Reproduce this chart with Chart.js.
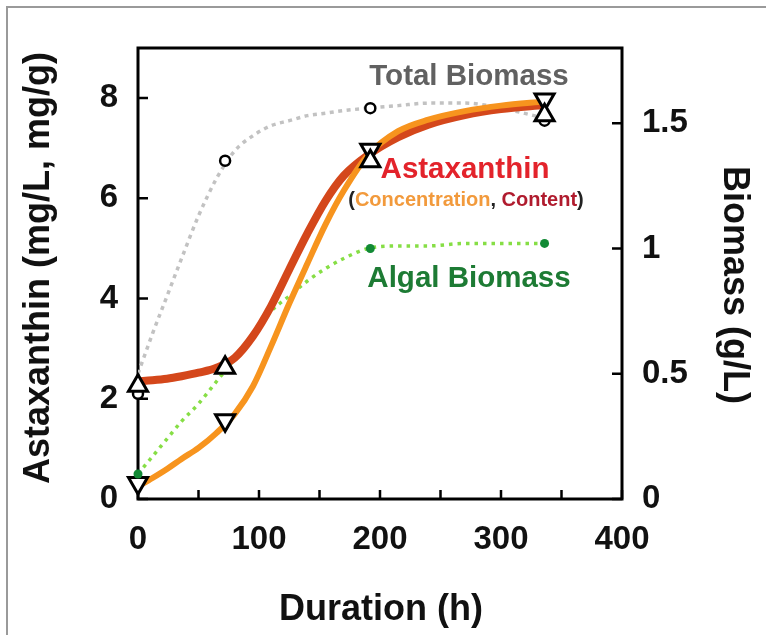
<!DOCTYPE html>
<html>
<head>
<meta charset="utf-8">
<script src="https://cdn.jsdelivr.net/npm/chart.js@4.4.0/dist/chart.umd.min.js"></script>
<style>
  body { margin: 0; background: #fff; }
  #chart { display: block; }
</style>
</head>
<body>
<canvas id="chart" width="766" height="635"></canvas>
<script>
// sampling times (h) and measured points
const hours = [0, 72, 192, 336];
const totalBiomass = [0.42, 1.35, 1.56, 1.51];   // g/L, right axis
const algalBiomass = [0.10, null, 1.00, 1.02];   // g/L, right axis
const astaContent = [2.26, 2.62, 6.74, 7.66];    // mg/g, left axis
const astaConc = [0.32, 1.57, 6.97, 7.97];       // mg/L, left axis

// trend lines as drawn in the figure
const fitHours = [0, 12, 24, 36, 50, 65, 80, 95, 110, 125, 140, 155, 170, 190, 215, 240, 270, 300, 336];
const contentFit = [2.35, 2.37, 2.40, 2.45, 2.52, 2.62, 2.82, 3.25, 3.85, 4.58, 5.30, 5.95, 6.45, 6.86, 7.22, 7.47, 7.66, 7.78, 7.86];
const concFit = [0.25, 0.42, 0.60, 0.80, 1.02, 1.32, 1.70, 2.25, 3.05, 3.90, 4.70, 5.48, 6.15, 6.86, 7.34, 7.57, 7.74, 7.85, 7.93];
const totalFit = [0.50, 0.66, 0.81, 0.96, 1.13, 1.28, 1.39, 1.45, 1.49, 1.51, 1.53, 1.54, 1.55, 1.56, 1.57, 1.58, 1.58, 1.56, 1.52];
const algalFit = [0.10, 0.17, 0.24, 0.31, 0.38, 0.47, 0.56, 0.66, 0.75, 0.81, 0.87, 0.92, 0.96, 1.00, 1.01, 1.01, 1.02, 1.02, 1.02];

// axis ticks
const xLabels = [0, 100, 200, 300, 400];
const xMarks = [0, 50, 100, 150, 200, 250, 300, 350, 400];
const leftTicks = [0, 2, 4, 6, 8];
const rightTicks = [0, 0.5, 1, 1.5];

const FONT = '"Liberation Sans", Arial, sans-serif';

const pts = (xs, ys) => xs.map((x, i) => ({ x: x, y: ys[i] }));

const curve = (data, axis, color, width, dash, order) => ({
  data: data, yAxisID: axis, showLine: true, pointRadius: 0,
  borderColor: color, borderWidth: width, borderDash: dash || [],
  cubicInterpolationMode: 'monotone', fill: false, order: order
});

const marks = (data, axis, opts, order) => Object.assign({
  data: data, yAxisID: axis, showLine: false, clip: false, order: order,
  pointBackgroundColor: '#fff', pointBorderColor: '#000'
}, opts);

// frame, inward ticks, labels
const decor = {
  id: 'decor',
  beforeDraw(chart) {
    const ctx = chart.ctx;
    ctx.save();
    ctx.strokeStyle = '#9a9a9a';
    ctx.lineWidth = 2;
    ctx.beginPath();
    ctx.moveTo(7, 635); ctx.lineTo(7, 7); ctx.lineTo(766, 7);
    ctx.stroke();
    ctx.restore();
  },
  beforeDatasetsDraw(chart) {
    const { ctx, chartArea: a, scales } = chart;
    ctx.save();
    ctx.strokeStyle = '#000';
    ctx.lineWidth = 3;
    ctx.strokeRect(a.left, a.top, a.right - a.left, a.bottom - a.top);
    ctx.lineWidth = 2.5;
    ctx.beginPath();
    xMarks.forEach(v => {
      const px = scales.x.getPixelForValue(v);
      ctx.moveTo(px, a.bottom); ctx.lineTo(px, a.bottom - 9);
    });
    leftTicks.forEach(v => {
      const py = scales.y.getPixelForValue(v);
      ctx.moveTo(a.left, py); ctx.lineTo(a.left + 10, py);
    });
    rightTicks.forEach(v => {
      const py = scales.y1.getPixelForValue(v);
      ctx.moveTo(a.right, py); ctx.lineTo(a.right - 10, py);
    });
    ctx.stroke();
    ctx.restore();
  },
  afterDraw(chart) {
    const ctx = chart.ctx;
    ctx.save();
    ctx.textAlign = 'center';
    ctx.textBaseline = 'middle';

    // axis titles
    ctx.fillStyle = '#111';
    ctx.font = 'bold 36px ' + FONT;
    ctx.fillText('Duration (h)', 381, 610);
    ctx.save();
    ctx.translate(39, 268);
    ctx.rotate(-Math.PI / 2);
    ctx.fillText('Astaxanthin (mg/L, mg/g)', 0, 0);
    ctx.restore();
    ctx.save();
    ctx.translate(734, 285);
    ctx.rotate(Math.PI / 2);
    ctx.fillText('Biomass (g/L)', 0, 0);
    ctx.restore();

    // in-plot labels
    ctx.font = 'bold 29.5px ' + FONT;
    ctx.fillStyle = '#616161';
    ctx.fillText('Total Biomass', 469, 77);
    ctx.fillStyle = '#e3232b';
    ctx.fillText('Astaxanthin', 465, 170);
    ctx.fillStyle = '#1d7b34';
    ctx.fillText('Algal Biomass', 469, 279);

    ctx.font = 'bold 20px ' + FONT;
    const parts = [['(', '#222'], ['Concentration', '#f29a3c'], [', ', '#222'], ['Content', '#b01b2e'], [')', '#222']];
    const total = parts.reduce((s, p) => s + ctx.measureText(p[0]).width, 0);
    let x = 466 - total / 2;
    ctx.textAlign = 'left';
    parts.forEach(p => {
      ctx.fillStyle = p[1];
      ctx.fillText(p[0], x, 200);
      x += ctx.measureText(p[0]).width;
    });
    ctx.restore();
  }
};

const setTicks = list => scale => { scale.ticks = list.map(v => ({ value: v })); };
const tickFont = { family: FONT, size: 33, weight: 'bold' };

new Chart(document.getElementById('chart'), {
  type: 'scatter',
  data: {
    datasets: [
      marks(pts(hours, algalBiomass), 'y1', { pointRadius: 4.5, pointBackgroundColor: '#128a35', pointBorderWidth: 0 }, 0),
      marks(pts(hours, astaContent), 'y', { pointStyle: 'triangle', pointRadius: 11, pointBorderWidth: 3 }, 1),
      marks(pts(hours, astaConc), 'y', { pointStyle: 'triangle', pointRotation: 180, pointRadius: 11, pointBorderWidth: 3 }, 2),
      marks(pts(hours, totalBiomass), 'y1', { pointRadius: 5, pointBorderWidth: 2.5 }, 3),
      curve(pts(fitHours, concFit), 'y', '#f7941e', 6, null, 4),
      curve(pts(fitHours, contentFit), 'y', '#d4471b', 8, null, 5),
      curve(pts(fitHours, algalFit), 'y1', '#86de45', 3.5, [3.5, 5], 6),
      curve(pts(fitHours, totalFit), 'y1', '#c2c2c2', 3.5, [4, 4.5], 7)
    ]
  },
  options: {
    responsive: false,
    animation: false,
    devicePixelRatio: 1,
    layout: { padding: { top: 48, left: 0, right: 0, bottom: 0 } },
    plugins: { legend: { display: false }, tooltip: { enabled: false } },
    scales: {
      x: {
        type: 'linear', min: 0, max: 400,
        grid: { display: false, drawTicks: false },
        border: { display: false },
        afterBuildTicks: setTicks(xLabels),
        afterFit: s => { s.height = 136; },
        ticks: { padding: 21, color: '#111', font: tickFont }
      },
      y: {
        position: 'left', min: 0, max: 9,
        grid: { display: false, drawTicks: false },
        border: { display: false },
        afterBuildTicks: setTicks(leftTicks),
        afterFit: s => { s.width = 138; },
        ticks: { padding: 20, color: '#111', font: tickFont }
      },
      y1: {
        position: 'right', min: 0, max: 1.8,
        grid: { display: false, drawTicks: false },
        border: { display: false },
        afterBuildTicks: setTicks(rightTicks),
        afterFit: s => { s.width = 144; },
        ticks: { padding: 20, color: '#111', callback: v => String(v), font: tickFont }
      }
    }
  },
  plugins: [decor]
});
</script>
</body>
</html>
